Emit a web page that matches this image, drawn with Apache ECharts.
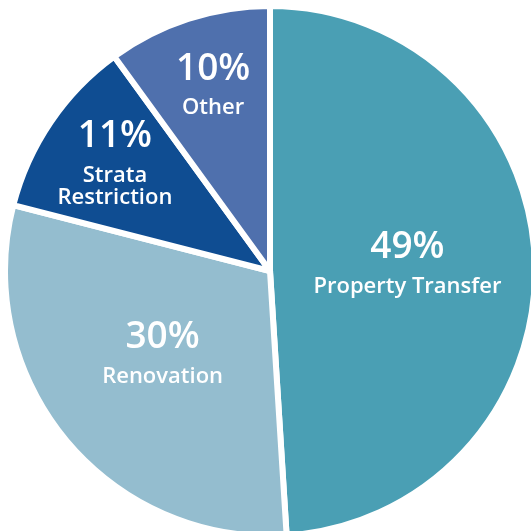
<!DOCTYPE html>
<html>
<head>
<meta charset="utf-8">
<script src="https://cdn.jsdelivr.net/npm/echarts@6/dist/echarts.min.js"></script>
<style>
  html, body { margin: 0; padding: 0; background: #fff; }
  #main { width: 531px; height: 531px; }
</style>
</head>
<body>
<div id="main"></div>
<script>
// 数据
const categories = ['Property Transfer', 'Renovation', 'Strata\nRestriction', 'Other']
const shares = [49, 30, 11, 10]
const colors = ['#4a9fb4', '#94bdcf', '#0f4d92', '#4f70ad']
// label nudges, px
const labelOffsets = [[2, -8], [-3, -9], [-43, -36], [-15, -62]]

const chart = echarts.init(document.getElementById('main'))

const option = {
  backgroundColor: '#fff',
  animation: false,
  series: [
    {
      type: 'pie',
      center: [270, 271],
      radius: [0, 265],
      startAngle: 90,
      clockwise: true,
      silent: true,
      labelLine: { show: false },
      itemStyle: {
        borderColor: '#fff',
        borderWidth: 6
      },
      label: {
        show: true,
        position: 'inside',
        color: '#fff',
        fontFamily: 'Open Sans',
        formatter: p => '{p|' + p.value + '%}\n{n|' + p.name + '}',
        rich: {
          p: { fontSize: 37, fontWeight: 600, lineHeight: 56, color: '#fff', fontFamily: 'Open Sans' },
          n: { fontSize: 22, fontWeight: 600, lineHeight: 22, color: '#fff', fontFamily: 'Open Sans' }
        }
      },
      data: shares.map((v, i) => ({
        value: v,
        name: categories[i],
        itemStyle: { color: colors[i] },
        label: { offset: labelOffsets[i] }
      }))
    }
  ]
}

chart.setOption(option)
</script>
</body>
</html>
